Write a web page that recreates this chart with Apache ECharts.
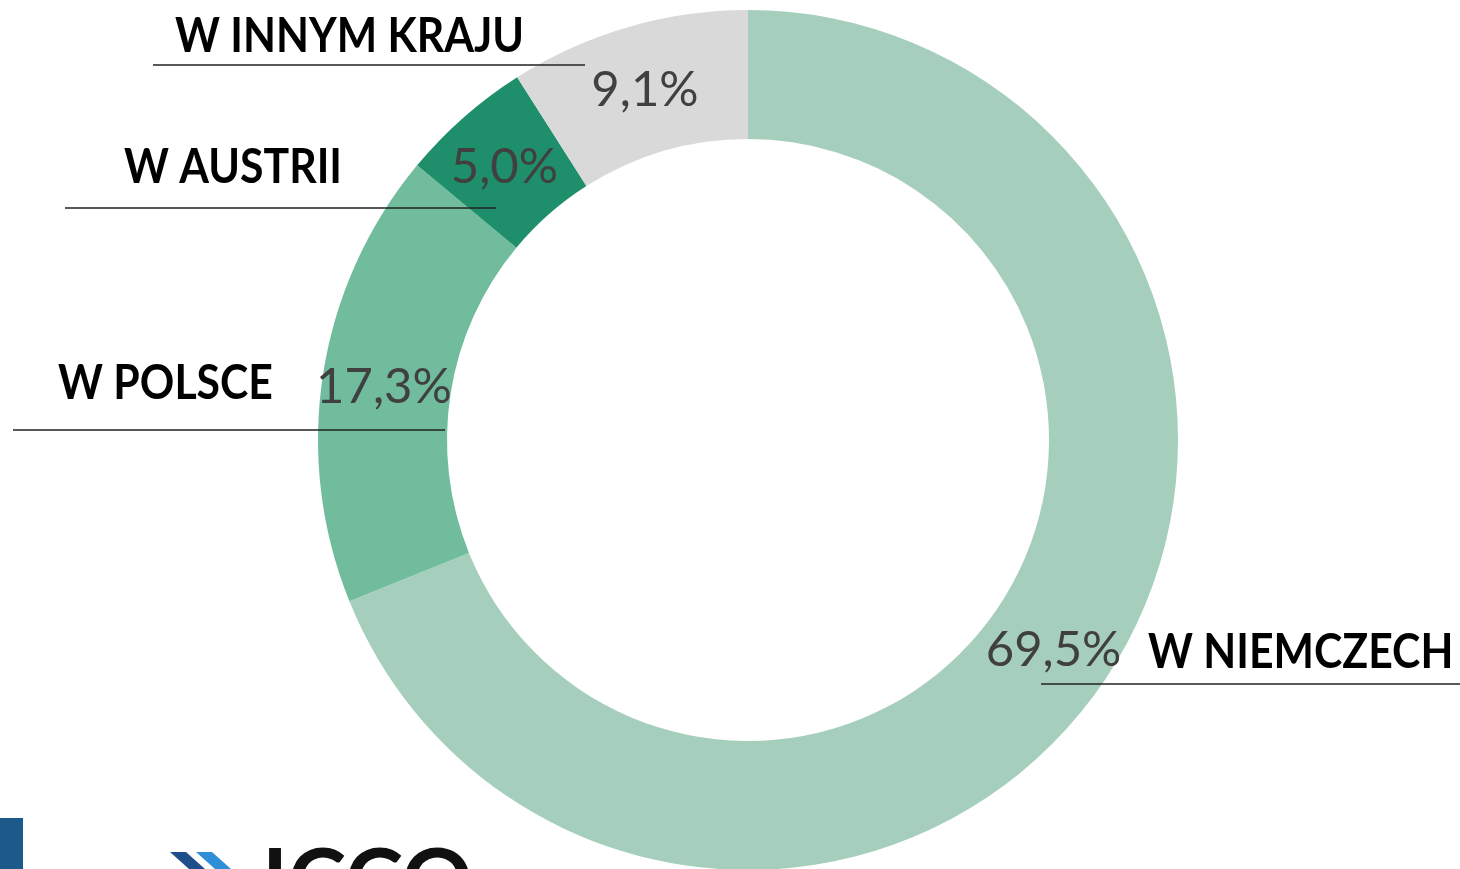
<!DOCTYPE html>
<html>
<head>
<meta charset="utf-8">
<script src="https://cdn.jsdelivr.net/npm/echarts@6/dist/echarts.min.js"></script>
<style>
  html, body { margin: 0; padding: 0; background: #fff; }
  #chart { width: 1460px; height: 869px; }
</style>
</head>
<body>
<div id="chart"></div>
<script>
// dane z wykresu
const categories = ["W NIEMCZECH", "W POLSCE", "W AUSTRII", "W INNYM KRAJU"];
const shares = [69.5, 17.3, 5.0, 9.1];
const colors = ["#a5cfbc", "#70bc9d", "#1f8f6b", "#d9d9d9"];

const chart = echarts.init(document.getElementById("chart"), null, { renderer: "canvas" });

// etykiety kategorii z podkresleniem
const catLabels = [
  { text: categories[0], x: 1148, y: 653, line: [1041, 1460, 684] },
  { text: categories[1], x: 58, y: 384, line: [13, 445, 430] },
  { text: categories[2], x: 124, y: 168, line: [65, 496, 208] },
  { text: categories[3], x: 175, y: 37, line: [153, 585, 65] },
];

const graphic = [];
catLabels.forEach((c) => {
  graphic.push({
    type: "line",
    z: 10,
    shape: { x1: c.line[0], y1: c.line[2], x2: c.line[1], y2: c.line[2] },
    style: { stroke: "#222", lineWidth: 1.5 },
  });
  graphic.push({
    type: "text",
    z: 10,
    x: c.x,
    y: c.y,
    scaleX: 0.91,
    style: {
      text: c.text,
      font: "bold 47px Lato, 'Noto Sans', sans-serif",
      fill: "#000",
      verticalAlign: "middle",
    },
  });
});

// logo w lewym dolnym rogu (przyciete)
graphic.push(
  { type: "rect", shape: { x: 0, y: 818, width: 23, height: 60 }, style: { fill: "#1d5a8c" } },
  { type: "polygon", shape: { points: [[170, 852], [186, 852], [205, 869], [189, 869]] }, style: { fill: "#1f4e8a" } },
  { type: "polygon", shape: { points: [[196, 852], [212, 852], [231, 869], [215, 869]] }, style: { fill: "#2f8fd6" } },
  {
    type: "text",
    x: 262,
    y: 840,
    style: { text: "ICCO", font: "bold 88px Lato, sans-serif", fill: "#111" },
  }
);

const option = {
  backgroundColor: "#fff",
  animation: false,
  graphic: graphic,
  series: [
    {
      type: "pie",
      center: [748, 440],
      radius: [301, 430],
      startAngle: 90,
      clockwise: true,
      silent: true,
      labelLine: { show: false },
      label: {
        show: true,
        position: "inside",
        color: "#404040",
        fontFamily: "Lato, 'Noto Sans', sans-serif",
        fontWeight: "normal",
        fontSize: 49,
        offset: [0, 4],
        formatter: (p) => p.value.toFixed(1).replace(".", ",") + "%",
      },
      data: categories.map((name, i) => ({
        name: name,
        value: shares[i],
        itemStyle: { color: colors[i] },
      })),
    },
  ],
};

chart.setOption(option);
</script>
</body>
</html>
